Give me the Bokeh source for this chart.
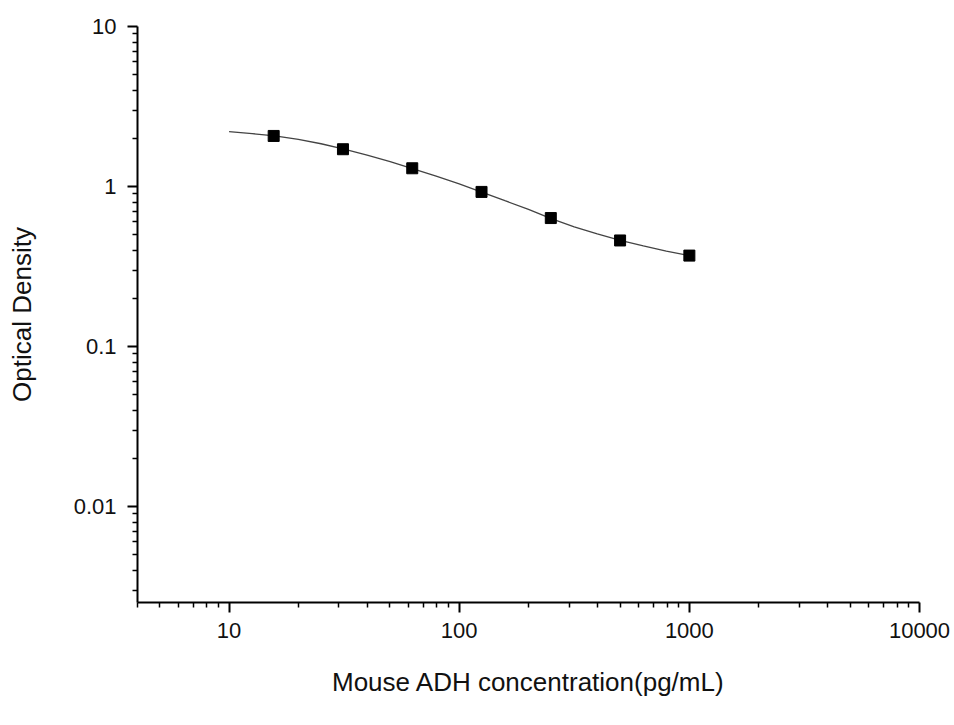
from bokeh.plotting import figure
from bokeh.models import FixedTicker, CustomJSTickFormatter, ColumnDataSource
from bokeh.embed import file_html
from bokeh.resources import INLINE

# Standard points (concentration in pg/mL, optical density)
concentration = [15.625, 31.25, 62.5, 125, 250, 500, 1000]
od = [2.07, 1.71, 1.30, 0.925, 0.635, 0.46, 0.37]

# Fitted curve
fit_x = [10, 12.6, 15.8, 20, 25.1, 31.6, 39.8, 50.1, 63.1, 79.4, 100,
         126, 158, 200, 251, 316, 398, 501, 631, 794, 1000]
fit_y = [2.20, 2.14, 2.07, 1.97, 1.85, 1.71, 1.57, 1.43, 1.29, 1.16, 1.04,
         0.92, 0.815, 0.72, 0.63, 0.56, 0.505, 0.46, 0.425, 0.395, 0.37]

x_major = [10, 100, 1000, 10000]
y_major = [0.01, 0.1, 1, 10]

x_minor = [m * d for d in [1, 10, 100, 1000] for m in range(2, 10)]
y_minor = [m * d for d in [0.001, 0.01, 0.1, 1] for m in range(2, 10)]

FONT = "Liberation Sans"

p = figure(width=950, height=712, x_axis_type="log", y_axis_type="log",
           x_range=(4, 10000), y_range=(0.0025119, 10),
           output_backend="svg", toolbar_location=None,
           min_border_left=137, min_border_right=31,
           min_border_top=26, min_border_bottom=110)

p.outline_line_color = None
p.xgrid.visible = False
p.ygrid.visible = False
p.background_fill_color = "white"
p.border_fill_color = "white"

p.xaxis.ticker = FixedTicker(ticks=x_major, minor_ticks=x_minor)
p.yaxis.ticker = FixedTicker(ticks=y_major, minor_ticks=y_minor)
fmt = CustomJSTickFormatter(code="return String(parseFloat(tick.toPrecision(6)));")
p.xaxis.formatter = fmt
p.yaxis.formatter = fmt

for ax in (p.xaxis, p.yaxis):
    ax.axis_line_width = 2
    ax.axis_line_color = "black"
    ax.major_tick_out = 10
    ax.major_tick_in = 0
    ax.minor_tick_out = 5
    ax.minor_tick_in = 0
    ax.major_tick_line_width = 2
    ax.minor_tick_line_width = 1.5
    ax.major_tick_line_color = "black"
    ax.minor_tick_line_color = "black"
    ax.major_label_text_font = FONT
    ax.major_label_text_font_size = "22px"
    ax.major_label_text_color = "#111111"
    ax.axis_label_text_font = FONT
    ax.axis_label_text_font_size = "26px"
    ax.axis_label_text_font_style = "normal"
    ax.axis_label_text_color = "#111111"

p.xaxis.axis_label = "Mouse ADH concentration(pg/mL)"
p.yaxis.axis_label = "Optical Density"
p.xaxis.major_label_standoff = 10
p.yaxis.major_label_standoff = 11
p.xaxis.axis_label_standoff = 26
p.yaxis.axis_label_standoff = 34

fit_src = ColumnDataSource(data=dict(x=fit_x, y=fit_y))
pts_src = ColumnDataSource(data=dict(x=concentration, y=od))

p.line("x", "y", source=fit_src, line_color="#444444", line_width=1.3)
p.scatter("x", "y", source=pts_src, marker="square", size=11,
          fill_color="black", line_color="black")

open("out.html", "w").write(file_html(p, INLINE))
